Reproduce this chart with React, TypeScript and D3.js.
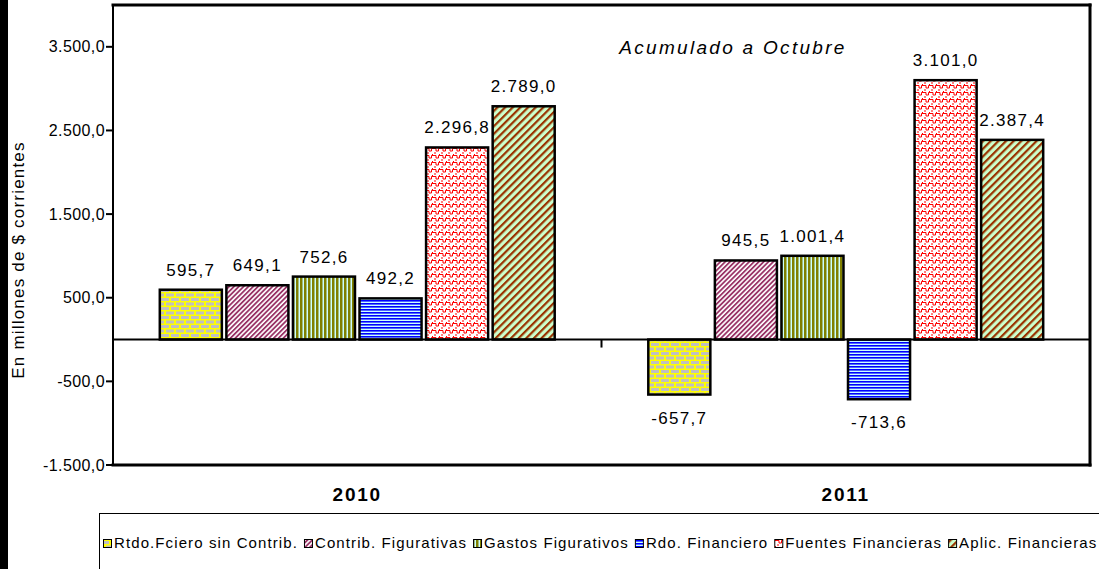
import React, { useEffect, useRef } from 'react';
import * as d3 from 'd3';

const categories = ["2010", "2011"];
const seriesNames = [
    "Rtdo.Fciero sin Contrib.",
    "Contrib. Figurativas",
    "Gastos Figurativos",
    "Rdo. Financiero",
    "Fuentes Financieras",
    "Aplic. Financieras"
];
const values2010 = [595.7, 649.1, 752.6, 492.2, 2296.8, 2789.0];
const values2011 = [-657.7, 945.5, 1001.4, -713.6, 3101.0, 2387.4];
const yTicks = [-1500, -500, 500, 1500, 2500, 3500];
const patternIds = ["p-brick", "p-maroon", "p-olive", "p-blue", "p-red", "p-brown"];

const width = 1099;
const height = 569;
const plot = { left: 113, right: 1090, top: 5, bottom: 465 };
const FONT = "Liberation Sans, Arial, sans-serif";

const locale = d3.formatLocale({ decimal: ",", thousands: ".", grouping: [3], currency: ["$", ""], minus: "-" });
const fmt = locale.format(",.1f");

const addPatterns = (defs) => {
    // ladrillos
    const brick = defs.append("pattern").attr("id", "p-brick")
        .attr("patternUnits", "userSpaceOnUse").attr("width", 10).attr("height", 9);
    brick.append("rect").attr("width", 10).attr("height", 9).attr("fill", "#ffff00");
    brick.append("rect").attr("x", 1).attr("y", 1).attr("width", 8).attr("height", 3).attr("fill", "#c0c0c0");
    brick.append("rect").attr("x", -4).attr("y", 5.5).attr("width", 8).attr("height", 3).attr("fill", "#c0c0c0");
    brick.append("rect").attr("x", 6).attr("y", 5.5).attr("width", 8).attr("height", 3).attr("fill", "#c0c0c0");

    const maroon = defs.append("pattern").attr("id", "p-maroon")
        .attr("patternUnits", "userSpaceOnUse").attr("width", 3.4).attr("height", 3.4)
        .attr("patternTransform", "rotate(45)");
    maroon.append("rect").attr("width", 3.4).attr("height", 3.4).attr("fill", "#ffffff");
    maroon.append("rect").attr("width", 1.8).attr("height", 3.4).attr("fill", "#993366");

    const olive = defs.append("pattern").attr("id", "p-olive")
        .attr("patternUnits", "userSpaceOnUse").attr("width", 4).attr("height", 4);
    olive.append("rect").attr("width", 4).attr("height", 4).attr("fill", "#ccffff");
    olive.append("rect").attr("width", 2.5).attr("height", 4).attr("fill", "#808000");

    const blue = defs.append("pattern").attr("id", "p-blue")
        .attr("patternUnits", "userSpaceOnUse").attr("width", 3).attr("height", 3);
    blue.append("rect").attr("width", 3).attr("height", 3).attr("fill", "#ccffff");
    blue.append("rect").attr("width", 3).attr("height", 1.6).attr("fill", "#0000ff");

    // trama roja tipo enrejado
    const red = defs.append("pattern").attr("id", "p-red")
        .attr("patternUnits", "userSpaceOnUse").attr("width", 7).attr("height", 7);
    red.append("rect").attr("width", 7).attr("height", 7).attr("fill", "#ffffff");
    red.append("path").attr("d", "M0,1.5 h2 v2.5 h2.5 v-2.5 h2.5 M1,5 v2 M5.5,0 v1.5")
        .attr("fill", "none").attr("stroke", "#ff0000").attr("stroke-width", 1);

    const brown = defs.append("pattern").attr("id", "p-brown")
        .attr("patternUnits", "userSpaceOnUse").attr("width", 5.4).attr("height", 5.4)
        .attr("patternTransform", "rotate(45)");
    brown.append("rect").attr("width", 5.4).attr("height", 5.4).attr("fill", "#ccffcc");
    brown.append("rect").attr("width", 2.2).attr("height", 5.4).attr("fill", "#993300");
};

const Chart = () => {
    const ref = useRef(null);

    useEffect(() => {
        const svg = d3.select(ref.current);
        svg.selectAll("*").remove();

        addPatterns(svg.append("defs"));

        const y = d3.scaleLinear().domain([-1500, 4000]).range([plot.bottom, plot.top]);
        const x0 = d3.scaleBand().domain(categories).range([plot.left, plot.right]);
        const x1 = d3.scaleBand().domain(seriesNames).range([0, x0.bandwidth()])
            .paddingInner(0.068).paddingOuter(0.703);

        const data = categories.flatMap((c, ci) => {
            const vals = ci === 0 ? values2010 : values2011;
            return vals.map((v, i) => ({ cat: c, key: seriesNames[i], value: v, pat: patternIds[i] }));
        });

        svg.append("rect").attr("width", width).attr("height", height).attr("fill", "#ffffff");

        // barras
        svg.append("g").selectAll("rect")
            .data(data)
            .join("rect")
            .attr("x", d => x0(d.cat) + x1(d.key))
            .attr("y", d => y(Math.max(0, d.value)))
            .attr("width", x1.bandwidth())
            .attr("height", d => Math.abs(y(d.value) - y(0)))
            .attr("fill", d => `url(#${d.pat})`)
            .attr("stroke", "#000")
            .attr("stroke-width", 2.5);

        // etiquetas de datos
        svg.append("g").selectAll("text")
            .data(data)
            .join("text")
            .attr("x", d => x0(d.cat) + x1(d.key) + x1.bandwidth() / 2)
            .attr("y", d => d.value >= 0 ? y(d.value) - 14 : y(d.value) + 29)
            .attr("text-anchor", "middle")
            .attr("font-family", FONT)
            .attr("font-size", 17)
            .attr("letter-spacing", 1.3)
            .attr("fill", "#000")
            .text(d => fmt(d.value));

        // linea de cero y tick de categoria
        svg.append("line")
            .attr("x1", plot.left).attr("x2", plot.right)
            .attr("y1", y(0)).attr("y2", y(0))
            .attr("stroke", "#000").attr("stroke-width", 2);
        svg.append("line")
            .attr("x1", x0("2011")).attr("x2", x0("2011"))
            .attr("y1", y(0)).attr("y2", y(0) + 8)
            .attr("stroke", "#000").attr("stroke-width", 2);

        // marco del area
        const frame = svg.append("g").attr("stroke", "#000").attr("stroke-linecap", "square");
        frame.append("line").attr("x1", plot.left).attr("x2", plot.right).attr("y1", plot.top).attr("y2", plot.top).attr("stroke-width", 3);
        frame.append("line").attr("x1", plot.right).attr("x2", plot.right).attr("y1", plot.top).attr("y2", plot.bottom).attr("stroke-width", 3);
        frame.append("line").attr("x1", plot.left).attr("x2", plot.right).attr("y1", plot.bottom).attr("y2", plot.bottom).attr("stroke-width", 3);
        frame.append("line").attr("x1", plot.left).attr("x2", plot.left).attr("y1", plot.top).attr("y2", plot.bottom).attr("stroke-width", 2);

        // eje y
        const yAxis = svg.append("g");
        yAxis.selectAll("line")
            .data(yTicks)
            .join("line")
            .attr("x1", plot.left - 7).attr("x2", plot.left)
            .attr("y1", d => y(d)).attr("y2", d => y(d))
            .attr("stroke", "#000").attr("stroke-width", 2);
        yAxis.selectAll("text")
            .data(yTicks)
            .join("text")
            .attr("x", plot.left - 8)
            .attr("y", d => y(d))
            .attr("dy", "0.35em")
            .attr("text-anchor", "end")
            .attr("font-family", FONT)
            .attr("font-size", 16)
            .attr("letter-spacing", 0.4)
            .text(d => fmt(d));

        // categorias
        svg.append("g").selectAll("text")
            .data(categories)
            .join("text")
            .attr("x", d => x0(d) + x0.bandwidth() / 2)
            .attr("y", 501)
            .attr("text-anchor", "middle")
            .attr("font-family", FONT)
            .attr("font-size", 19)
            .attr("font-weight", "bold")
            .attr("letter-spacing", 1.8)
            .text(d => d);

        svg.append("text")
            .attr("x", 733).attr("y", 54)
            .attr("text-anchor", "middle")
            .attr("font-family", FONT)
            .attr("font-size", 19)
            .attr("font-style", "italic")
            .attr("letter-spacing", 2.3)
            .text("Acumulado a Octubre");

        svg.append("text")
            .attr("transform", "translate(24,260) rotate(-90)")
            .attr("text-anchor", "middle")
            .attr("font-family", FONT)
            .attr("font-size", 17)
            .attr("letter-spacing", 1.2)
            .text("En millones de $ corrientes");

        // leyenda
        svg.append("rect")
            .attr("x", 99.5).attr("y", 513.5)
            .attr("width", 1010).attr("height", 70)
            .attr("fill", "#fff").attr("stroke", "#000").attr("stroke-width", 1);

        const legend = svg.append("g");
        let lx = 103;
        seriesNames.forEach((name, i) => {
            legend.append("rect")
                .attr("x", lx + 0.5).attr("y", 539.5)
                .attr("width", 8).attr("height", 8)
                .attr("fill", `url(#${patternIds[i]})`)
                .attr("stroke", "#000").attr("stroke-width", 1);
            const t = legend.append("text")
                .attr("x", lx + 11).attr("y", 548)
                .attr("font-family", FONT)
                .attr("font-size", 15)
                .attr("letter-spacing", 1.1)
                .text(name);
            lx += 11 + t.node().getComputedTextLength() + 6;
        });

        // franja negra izquierda
        svg.append("rect").attr("x", 0).attr("y", 0).attr("width", 8).attr("height", height).attr("fill", "#000");
    }, []);

    return (
        <svg ref={ref} width={width} height={height}
            style={{ position: "absolute", left: 0, top: 0, display: "block" }} />
    );
};

export default function App() {
    return <Chart />;
}
